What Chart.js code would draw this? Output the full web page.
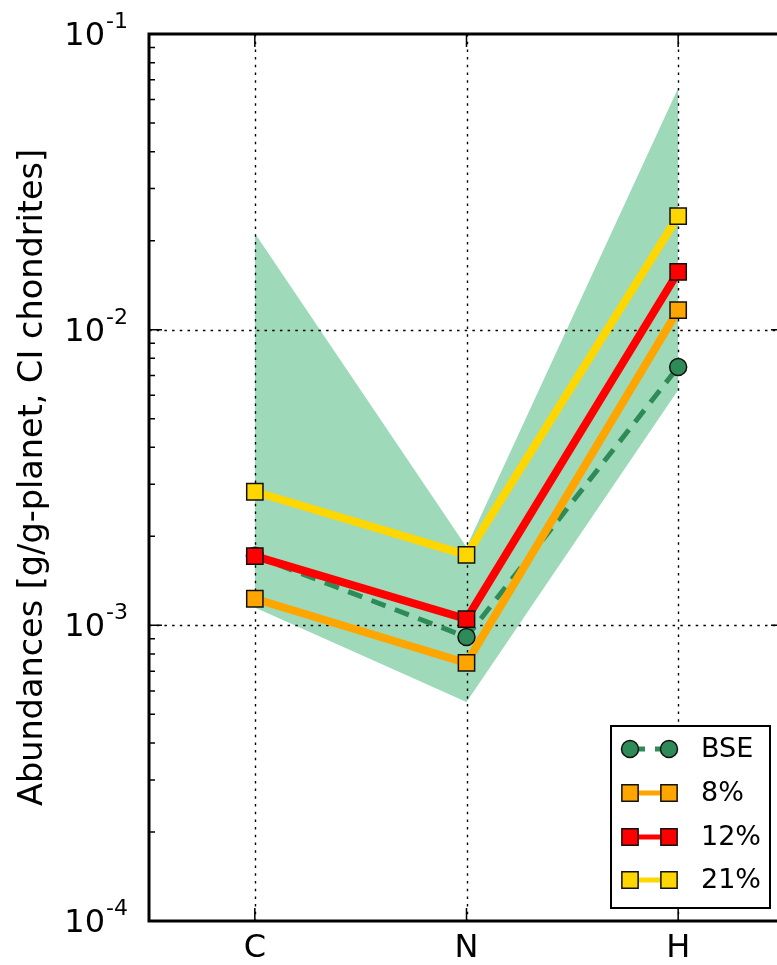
<!DOCTYPE html>
<html>
<head>
<meta charset="utf-8">
<script src="https://cdn.jsdelivr.net/npm/chart.js@4.4.1/dist/chart.umd.min.js"></script>
<style>
  body { margin: 0; overflow: hidden; background: #fff; }
  canvas { display: block; }
</style>
</head>
<body>
<canvas id="chart" width="800" height="965"></canvas>
<script>
const elements = ["C", "N", "H"];
const bse = [1.72e-3, 9.13e-4, 7.48e-3];
const pct8 = [1.23e-3, 7.46e-4, 1.165e-2];
const pct12 = [1.715e-3, 1.05e-3, 1.567e-2];
const pct21 = [2.83e-3, 1.73e-3, 2.42e-2];
const bandHigh = [2.12e-2, 1.84e-3, 6.57e-2];
const bandLow = [1.15e-3, 5.5e-4, 6.25e-3];
const yTickExps = [-4, -3, -2, -1];
const yTitle = "Abundances [g/g-planet, CI chondrites]";

const FONT = "'DejaVu Sans', sans-serif";

function lineSet(label, data, color, style, dash) {
  return {
    label: label,
    data: data,
    borderColor: color,
    borderWidth: dash ? 5 : 8,
    borderDash: dash || [],
    pointStyle: style,
    pointRadius: style === "rect" ? 11.5 : 8.5,
    pointBackgroundColor: color,
    pointBorderColor: "#111",
    pointBorderWidth: 1.5,
    tension: 0,
    fill: false,
  };
}

// chart.js draws the first dataset on top, so the order is reversed here
const datasets = [
  lineSet("21%", pct21, "#ffd700", "rect"),
  lineSet("12%", pct12, "#ff0000", "rect"),
  lineSet("8%", pct8, "#ffa500", "rect"),
  lineSet("BSE", bse, "#2e8b57", "circle", [15, 10]),
  {
    label: "band",
    data: bandHigh,
    borderColor: "transparent",
    borderWidth: 0,
    pointRadius: 0,
    backgroundColor: "#9ed9b9",
    fill: "+1",
  },
  {
    label: "bandLow",
    data: bandLow,
    borderColor: "transparent",
    borderWidth: 0,
    pointRadius: 0,
    fill: false,
  },
];

function drawGrid(chart) {
  const ctx = chart.ctx;
  const a = chart.chartArea;
  const x = chart.scales.x;
  const y = chart.scales.y;
  ctx.save();
  ctx.strokeStyle = "#000";
  ctx.lineWidth = 1.4;
  ctx.setLineDash([2.5, 5.2]);
  elements.forEach((e, i) => {
    const px = Math.round(x.getPixelForValue(i)) + 0.5;
    ctx.beginPath();
    ctx.moveTo(px, a.top);
    ctx.lineTo(px, a.bottom);
    ctx.stroke();
  });
  yTickExps.slice(1, -1).forEach((e) => {
    const py = Math.round(y.getPixelForValue(Math.pow(10, e))) + 0.5;
    ctx.beginPath();
    ctx.moveTo(a.left, py);
    ctx.lineTo(a.right, py);
    ctx.stroke();
  });
  ctx.restore();
}

function drawAxes(chart) {
  const ctx = chart.ctx;
  const a = chart.chartArea;
  const x = chart.scales.x;
  const y = chart.scales.y;
  ctx.save();
  ctx.strokeStyle = "#000";
  ctx.lineWidth = 1.5;

  // y ticks, major and minor, inside
  yTickExps.forEach((e, k) => {
    const py = y.getPixelForValue(Math.pow(10, e));
    ctx.beginPath();
    ctx.moveTo(a.left, py);
    ctx.lineTo(a.left + 13, py);
    ctx.moveTo(a.right, py);
    ctx.lineTo(a.right - 13, py);
    ctx.stroke();
    if (k < yTickExps.length - 1) {
      for (let m = 2; m <= 9; m++) {
        const pm = y.getPixelForValue(m * Math.pow(10, e));
        ctx.beginPath();
        ctx.moveTo(a.left, pm);
        ctx.lineTo(a.left + 6, pm);
        ctx.moveTo(a.right, pm);
        ctx.lineTo(a.right - 6, pm);
        ctx.stroke();
      }
    }
  });

  // x ticks
  elements.forEach((e, i) => {
    const px = x.getPixelForValue(i);
    ctx.beginPath();
    ctx.moveTo(px, a.bottom);
    ctx.lineTo(px, a.bottom - 13);
    ctx.moveTo(px, a.top);
    ctx.lineTo(px, a.top + 13);
    ctx.stroke();
  });

  // frame
  ctx.lineWidth = 3;
  ctx.strokeRect(a.left, a.top, a.right - a.left, a.bottom - a.top);

  // labels
  ctx.fillStyle = "#000";
  ctx.textAlign = "center";
  ctx.textBaseline = "alphabetic";
  ctx.font = "32px " + FONT;
  elements.forEach((e, i) => {
    ctx.fillText(e, x.getPixelForValue(i), a.bottom + 36);
  });

  yTickExps.forEach((e) => {
    const py = y.getPixelForValue(Math.pow(10, e));
    const sup = "-" + Math.abs(e);
    ctx.font = "22px " + FONT;
    const supW = ctx.measureText(sup).width;
    const right = a.left - 21;
    ctx.textAlign = "left";
    ctx.fillText(sup, right - supW, py - 6);
    ctx.font = "32px " + FONT;
    ctx.textAlign = "right";
    ctx.fillText("10", right - supW - 1, py + 11);
  });

  ctx.translate(42, (a.top + a.bottom) / 2);
  ctx.rotate(-Math.PI / 2);
  ctx.textAlign = "center";
  ctx.font = "33.5px " + FONT;
  ctx.fillText(yTitle, 0, 0);
  ctx.restore();
}

function drawMarker(ctx, ds, px, py) {
  ctx.fillStyle = ds.pointBackgroundColor;
  ctx.strokeStyle = ds.pointBorderColor;
  ctx.lineWidth = ds.pointBorderWidth;
  ctx.beginPath();
  if (ds.pointStyle === "rect") {
    const h = ds.pointRadius * Math.SQRT1_2;
    ctx.rect(px - h, py - h, 2 * h, 2 * h);
  } else {
    ctx.arc(px, py, ds.pointRadius, 0, Math.PI * 2);
  }
  ctx.fill();
  ctx.stroke();
}

function drawLegend(chart) {
  const ctx = chart.ctx;
  const items = [datasets[3], datasets[2], datasets[1], datasets[0]];
  const rowY = [749, 793, 837, 880];
  ctx.save();
  ctx.fillStyle = "#fff";
  ctx.fillRect(611, 726, 159, 182);
  ctx.strokeStyle = "#000";
  ctx.lineWidth = 2;
  ctx.strokeRect(611, 726, 159, 182);
  items.forEach((ds, i) => {
    const py = rowY[i];
    ctx.strokeStyle = ds.borderColor;
    ctx.lineWidth = 5;
    ctx.setLineDash(ds.borderDash);
    ctx.beginPath();
    ctx.moveTo(630, py);
    ctx.lineTo(669, py);
    ctx.stroke();
    ctx.setLineDash([]);
    drawMarker(ctx, ds, 630, py);
    drawMarker(ctx, ds, 669, py);
    ctx.fillStyle = "#000";
    ctx.font = "27px " + FONT;
    ctx.textAlign = "left";
    ctx.textBaseline = "middle";
    ctx.fillText(ds.label, 701, py + 1);
  });
  ctx.restore();
}

const decor = {
  id: "decor",
  afterDatasetDraw(chart, args) {
    if (args.index === 4) drawGrid(chart);
  },
  afterDraw(chart) {
    drawAxes(chart);
    drawLegend(chart);
  },
};

new Chart(document.getElementById("chart").getContext("2d"), {
  type: "line",
  data: { labels: elements, datasets: datasets },
  options: {
    responsive: false,
    animation: false,
    layout: { padding: { left: 149, right: 16, top: 34, bottom: 44 } },
    plugins: { legend: { display: false }, tooltip: { enabled: false } },
    scales: {
      x: { type: "category", offset: true, display: false },
      y: { type: "logarithmic", min: 1e-4, max: 1e-1, display: false },
    },
  },
  plugins: [decor],
});
</script>
</body>
</html>
